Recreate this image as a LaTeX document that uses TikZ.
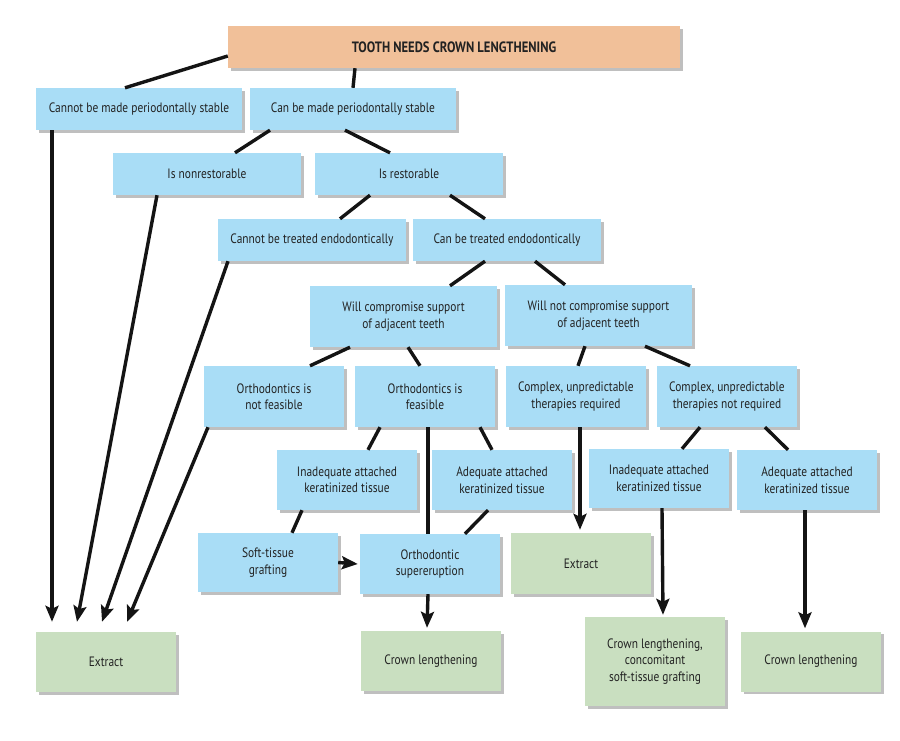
\documentclass[tikz,border=0pt]{standalone}
\usepackage{fontspec}
\setmainfont[FakeStretch=0.84]{PT Sans}
\usetikzlibrary{arrows.meta,shadows}
\definecolor{bluebox}{HTML}{A9DDF6}
\definecolor{greenbox}{HTML}{C9DFC0}
\definecolor{orangebox}{HTML}{F1C099}
\definecolor{txt}{HTML}{222222}
\tikzset{
  base/.style={inner sep=2pt, align=center, text=txt,
    font=\fontsize{13.6}{16.5}\selectfont,
    drop shadow={shadow xshift=2.5pt, shadow yshift=-2.5pt, opacity=0.25, fill=black}},
  bbox/.style={base, fill=bluebox},
  gbox/.style={base, fill=greenbox},
  obox/.style={base, fill=orangebox},
  conn/.style={line width=3.4pt, draw=black!92},
  arr/.style={conn, -{Stealth[length=16pt,width=13pt,inset=3pt]}},
  sz/.style n args={2}{minimum width=#1pt, minimum height=#2pt}
}
\begin{document}
\begin{tikzpicture}[x=1pt,y=-1pt]
\useasboundingbox (0,0) rectangle (900,740);
\fill[white] (0,0) rectangle (900,740);
% nodes
\node[obox, sz={452}{42}, font=\fontsize{15}{16}\selectfont\bfseries] (top) at (454,47) {TOOTH NEEDS CROWN LENGTHENING};
\node[bbox, sz={206}{42}] (cps) at (139,109) {Cannot be made periodontally stable};
\node[bbox, sz={206}{42}] (ps) at (353,109) {Can be made periodontally stable};
\node[bbox, sz={188}{42}] (nr) at (207,174) {Is nonrestorable};
\node[bbox, sz={188}{42}] (rs) at (409,174) {Is restorable};
\node[bbox, sz={188}{42}] (ce) at (312,240) {Cannot be treated endodontically};
\node[bbox, sz={188}{42}] (te) at (507,240) {Can be treated endodontically};
\node[bbox, sz={187}{61}] (wc) at (403.5,316.5) {Will compromise support\\of adjacent teeth};
\node[bbox, sz={187}{61}] (wn) at (598.5,315.5) {Will not compromise support\\of adjacent teeth};
\node[bbox, sz={140}{61}] (onf) at (274,396.5) {Orthodontics is\\not feasible};
\node[bbox, sz={140}{61}] (of) at (425,396.5) {Orthodontics is\\feasible};
\node[bbox, sz={140}{61}] (cr) at (576,396.5) {Complex, unpredictable\\therapies required};
\node[bbox, sz={140}{61}] (cnr) at (727,396.5) {Complex, unpredictable\\therapies not required};
\node[bbox, sz={140}{60}] (ial) at (347,480) {Inadequate attached\\keratinized tissue};
\node[bbox, sz={140}{60}] (aal) at (502,480) {Adequate attached\\keratinized tissue};
\node[bbox, sz={140}{59}] (iar) at (659,478.5) {Inadequate attached\\keratinized tissue};
\node[bbox, sz={140}{60}] (aar) at (807,480) {Adequate attached\\keratinized tissue};
\node[bbox, sz={140}{59}] (stg) at (268,562.5) {Soft-tissue\\grafting};
\node[bbox, sz={140}{60}] (os) at (430,564) {Orthodontic\\supereruption};
\node[gbox, sz={140}{61}] (ex2) at (581,563.5) {Extract};
\node[gbox, sz={140}{60}] (ex1) at (106,662) {Extract};
\node[gbox, sz={140}{60}] (cl1) at (431,661) {Crown lengthening};
\node[gbox, sz={140}{89}] (cl2) at (655,661.5) {Crown lengthening,\\concomitant\\soft-tissue grafting};
\node[gbox, sz={140}{60}] (cl3) at (811,661.5) {Crown lengthening};
% connectors
\draw[conn] ([yshift=-9pt]top.west) -- ([xshift=-14pt]cps.north);
\draw[conn] ([xshift=-99pt]top.south) -- (ps.north);
\draw[conn] ([xshift=-83pt]ps.south) -- ([xshift=28pt]nr.north);
\draw[conn] ([xshift=-8pt]ps.south) -- ([xshift=-19pt]rs.north);
\draw[conn] ([xshift=-39pt]rs.south) -- ([xshift=28pt]ce.north);
\draw[conn] ([xshift=41pt]rs.south) -- ([xshift=-22pt]te.north);
\draw[conn] ([xshift=-22pt]te.south) -- ([xshift=46.5pt]wc.north);
\draw[conn] ([xshift=28pt]te.south) -- ([xshift=-33.5pt]wn.north);
\draw[conn] ([xshift=-53.5pt]wc.south) -- ([xshift=36pt]onf.north);
\draw[conn] ([xshift=4.5pt]wc.south) -- ([xshift=-5pt]of.north);
\draw[conn] ([xshift=-13.5pt]wn.south) -- ([xshift=2pt]cr.north);
\draw[conn] ([xshift=46.5pt]wn.south) -- ([xshift=-37pt]cnr.north);
\draw[conn] ([xshift=-45pt]of.south) -- ([xshift=21pt]ial.north);
\draw[conn] ([xshift=3pt]of.south) -- ([xshift=-2pt]os.north);
\draw[conn] ([xshift=55pt]of.south) -- ([xshift=-10pt]aal.north);
\draw[arr] ([xshift=4pt]cr.south) -- ([xshift=-1pt,yshift=3pt]ex2.north);
\draw[conn] ([xshift=-27pt]cnr.south) -- ([xshift=23pt]iar.north);
\draw[conn] ([xshift=38pt]cnr.south) -- ([xshift=-19pt]aar.north);
\draw[conn] ([xshift=-45pt]ial.south) -- ([xshift=24pt]stg.north);
\draw[conn] ([xshift=-14pt]aal.south) -- ([xshift=35pt]os.north);
\draw[arr] (stg.east) -- ([xshift=-2pt]os.west);
\draw[arr] ([xshift=-2pt]os.south) -- ([xshift=-4pt,yshift=3pt]cl1.north);
\draw[arr] ([xshift=3pt]iar.south) -- ([xshift=8pt,yshift=2pt]cl2.north);
\draw[arr] ([xshift=-2pt]aar.south) -- ([xshift=-6pt,yshift=3pt]cl3.north);
\draw[arr] ([xshift=-87pt]cps.south) -- ([xshift=-54pt,yshift=10pt]ex1.north);
\draw[arr] ([xshift=-50pt]nr.south) -- ([xshift=-29pt,yshift=10pt]ex1.north);
\draw[arr] ([xshift=-84pt]ce.south) -- ([xshift=-4pt,yshift=10pt]ex1.north);
\draw[arr] ([xshift=-66pt]onf.south) -- ([xshift=21pt,yshift=10pt]ex1.north);
\end{tikzpicture}
\end{document}
